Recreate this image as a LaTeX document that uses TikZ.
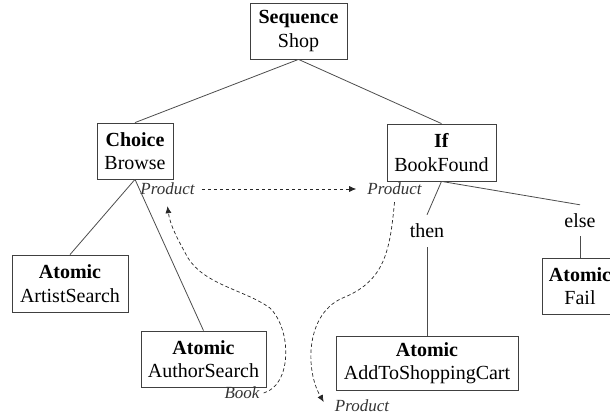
\documentclass[tikz,border=0pt]{standalone}
\usepackage{fontspec}
\setmainfont{Liberation Serif}
\usetikzlibrary{arrows.meta}
\begin{document}
\begin{tikzpicture}[x=1pt,y=-1pt,
  box/.style={draw=black!75, line width=0.8pt, fill=white, inner sep=0pt, align=center, font=\fontsize{20}{23.5}\selectfont},
  lbl/.style={inner sep=0pt, font=\fontsize{20}{23.5}\selectfont},
  port/.style={inner sep=1pt, font=\fontsize{17}{19}\selectfont\itshape, text=black!80},
  tree/.style={draw=black!70, line width=0.8pt},
  flow/.style={draw=black!85, line width=0.7pt, dash pattern=on 3.5pt off 2.5pt, -{Latex[length=7pt,width=6pt]}}
]
\useasboundingbox (0,0) rectangle (610,414);
% boxes
\node[box, minimum width=97pt, minimum height=56pt] (shop) at (298.5,31) {\textbf{Sequence}\\Shop};
\node[box, minimum width=76pt, minimum height=56pt] (choice) at (135,151) {\textbf{Choice}\\Browse};
\node[box, minimum width=109pt, minimum height=57pt] (if) at (441.5,152.5) {\textbf{If}\\BookFound};
\node[box, minimum width=116pt, minimum height=57pt] (artist) at (70,283.5) {\textbf{Atomic}\\ArtistSearch};
\node[box, minimum width=125pt, minimum height=56pt] (author) at (203.5,359) {\textbf{Atomic}\\AuthorSearch};
\node[box, minimum width=182pt, minimum height=54pt] (cart) at (427,363) {\textbf{Atomic}\\AddToShoppingCart};
\node[box, minimum width=76pt, minimum height=56pt] (fail) at (580,286) {\textbf{Atomic}\\Fail};
% branch labels
\node[lbl, minimum height=32pt] (then) at (427,231) {then};
\node[lbl, minimum height=31pt] (else) at (580,220.5) {else};
% port labels
\node[port] (prodL) at (167.5,189) {Product};
\node[port] (prodR) at (394.5,189) {Product};
\node[port] (book) at (242,393) {Book};
\node[port] (prodC) at (362,406) {Product};
% tree
\draw[tree] (shop.south) -- (choice.north);
\draw[tree] (shop.south) -- (if.north);
\draw[tree] (choice.south) -- (artist.north);
\draw[tree] (choice.south) -- (author.north);
\draw[tree] (if.south) -- (then.north);
\draw[tree] (then.south) -- (cart.north);
\draw[tree] (if.south) -- (else.north);
\draw[tree] (else.south) -- (fail.north);
% data flow
\draw[flow] ([xshift=6pt]prodL.east) -- ([xshift=-10pt]prodR.west);
\draw[flow] ([xshift=3pt]book.east) .. controls (292,385) and (292,330) .. (270,308)
  .. controls (245,290) and (205,285) .. (188,258)
  .. controls (178,240) and (170,225) .. ([yshift=-10pt]prodL.south);
\draw[flow] ([yshift=-6pt]prodR.south) .. controls (390,250) and (385,280) .. (345,297)
  .. controls (305,312) and (305,370) .. ([xshift=-10pt,yshift=4pt]prodC.west);
\end{tikzpicture}
\end{document}
